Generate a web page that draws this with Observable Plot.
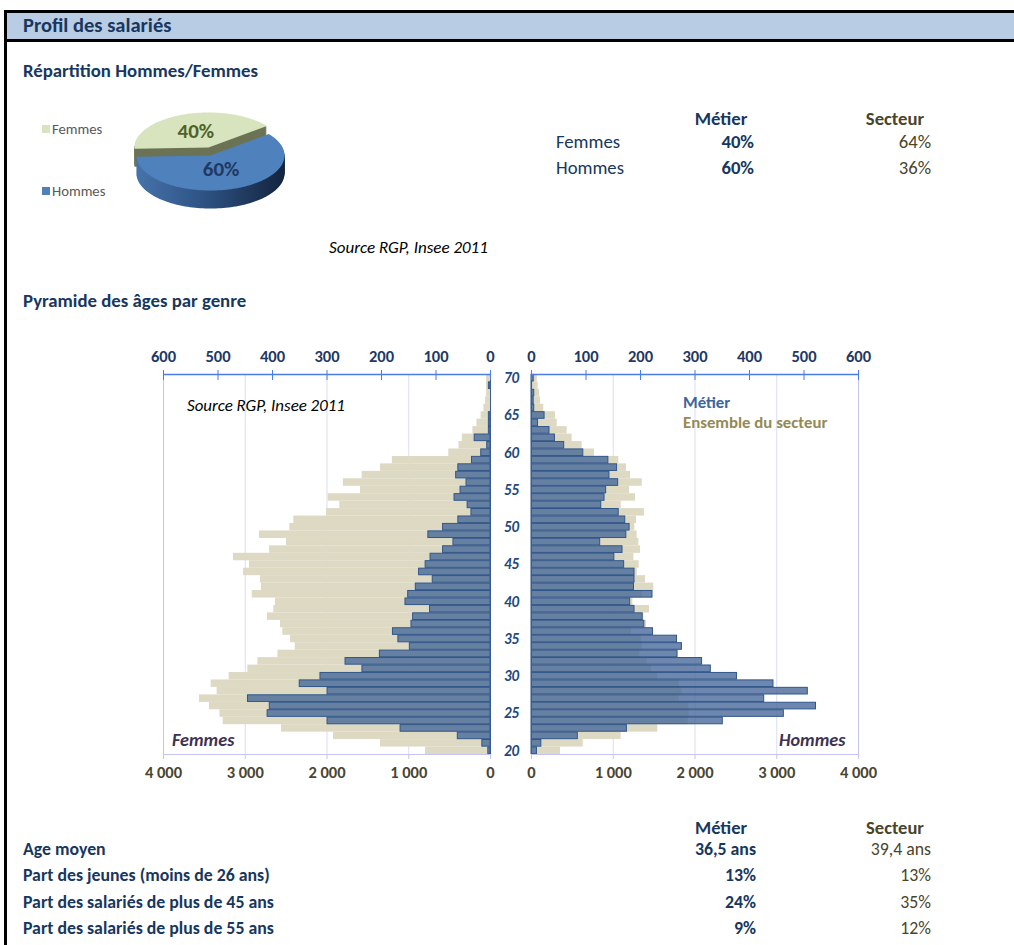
<!DOCTYPE html>
<html><head><meta charset="utf-8">
<script src="https://cdn.jsdelivr.net/npm/d3@7"></script>
<script src="https://cdn.jsdelivr.net/npm/@observablehq/plot@0.6"></script>
<style>
body{margin:0;background:#fff;}
#page{position:relative;width:1014px;height:945px;overflow:hidden;background:#fff;font-family:Carlito,Calibri,Lato,sans-serif;}
.t{position:absolute;white-space:nowrap;line-height:1;}
.abs{position:absolute;}
</style></head><body><div id="page"></div>
<script>
// ---------------- DATA ----------------
const pieLabels = ["Femmes", "Hommes"];
const pieShares = [40, 60];
const genderMetier = ["40%", "60%"];
const genderSecteur = ["64%", "36%"];

const ages = [20,21,22,23,24,25,26,27,28,29,30,31,32,33,34,35,36,37,38,39,40,41,42,43,44,45,46,47,48,49,50,51,52,53,54,55,56,57,58,59,60,61,62,63,64,65,66,67,68,69,70];
// Femmes – métier (top scale, 0–600)
const femmesMetier = [4,15,60,165,299,409,405,445,299,350,312,235,266,203,148,169,179,145,142,111,156,151,137,106,131,119,110,87,68,114,87,59,35,42,66,55,44,63,59,34,17,6,29,3,3,3,0,0,0,3,0];
// Femmes – ensemble du secteur (bottom scale, 0–4000)
const femmesSecteur = [795,1345,1920,2557,3270,3310,3437,3560,3344,3417,3197,2968,2845,2600,2389,2446,2540,2569,2728,2650,2630,2915,2801,2814,3021,2948,3144,2703,2495,2826,2455,2406,2006,1843,1985,1590,1800,1570,1345,1200,510,385,345,215,165,115,80,60,50,50,49];
// Hommes – métier
const hommesMetier = [10,18,85,175,351,463,522,427,507,444,377,329,313,268,276,267,223,207,204,189,181,222,188,189,189,170,152,167,126,174,180,172,160,128,134,137,159,143,157,141,95,60,43,33,12,24,5,4,5,1,4];
// Hommes – ensemble du secteur
const hommesSecteur = [355,632,1097,1545,1916,1930,1925,1806,1843,1810,1545,1468,1415,1325,1354,1346,1223,1407,1374,1443,1240,1354,1496,1395,1293,1317,1252,1333,1313,1293,1264,1284,1382,1097,1272,1200,1354,1211,1162,1068,770,620,497,436,314,294,150,110,98,80,70];

const metierTicks = [0,100,200,300,400,500,600];
const secteurTicks = [0,1000,2000,3000,4000];
const ageTicks = [20,25,30,35,40,45,50,55,60,65,70];

const statLabels = ["Age moyen","Part des jeunes (moins de 26 ans)","Part des salariés de plus de 45 ans","Part des salariés de plus de 55 ans"];
const statMetier = ["36,5 ans","13%","24%","9%"];
const statSecteur = ["39,4 ans","13%","35%","12%"];

// ---------------- LAYOUT ----------------
const FONT = "Carlito, Calibri, Lato, sans-serif";
const NAVY = "#17375e", OLIVE = "#4a452a";
const page = document.getElementById("page");

function txt(s, x, y, st, anchor = "start") {
  const el = document.createElement("div");
  el.className = "t";
  el.textContent = s;
  const tx = anchor === "end" ? "-100%" : anchor === "middle" ? "-50%" : "0";
  el.style.cssText = `left:${x}px;top:${y}px;transform:translate(${tx},-50%);` + st;
  page.appendChild(el);
  return el;
}
function box(x, y, w, h, st) {
  const el = document.createElement("div");
  el.className = "abs";
  el.style.cssText = `left:${x}px;top:${y}px;width:${w}px;height:${h}px;` + st;
  page.appendChild(el);
}

// frame / header
box(4, 10, 1020, 26, "background:#b8cce4;border-top:3px solid #000;border-bottom:3px solid #000;border-left:3px solid #000;box-sizing:content-box;");
box(4, 38, 3, 910, "background:#000;");
txt("Profil des salariés", 23, 25, `font-weight:bold;font-size:20.5px;color:${NAVY};`);

txt("Répartition Hommes/Femmes", 23, 71, `font-weight:bold;font-size:18.8px;color:${NAVY};`);
txt("Source RGP, Insee 2011", 329, 247, "font-style:italic;font-size:17px;color:#000;");
txt("Pyramide des âges par genre", 23, 301, `font-weight:bold;font-size:18.8px;color:${NAVY};`);

// pie legend
const pieColors = ["#d7e4bd", "#4f81bd"];
const legY = [129, 191];
pieLabels.forEach((l, i) => {
  box(42, legY[i] - 4, 8, 8, `background:${pieColors[i]};`);
  txt(l, 52, legY[i], "font-size:14.7px;color:#595959;");
});

// top-right table
txt("Métier", 721, 119, `font-weight:bold;font-size:18.7px;color:${NAVY};`, "middle");
txt("Secteur", 895, 119, `font-weight:bold;font-size:18.7px;color:${OLIVE};`, "middle");
pieLabels.forEach((l, i) => {
  const y = 142 + i * 26;
  txt(l, 556, y, `font-size:18.7px;color:${NAVY};`);
  txt(genderMetier[i], 754, y, `font-weight:bold;font-size:18.7px;color:${NAVY};`, "end");
  txt(genderSecteur[i], 931, y, `font-size:18.7px;color:${OLIVE};`, "end");
});

// bottom table
txt("Métier", 721, 828, `font-weight:bold;font-size:18.5px;color:${NAVY};`, "middle");
txt("Secteur", 895, 828, `font-weight:bold;font-size:18.5px;color:${OLIVE};`, "middle");
statLabels.forEach((l, i) => {
  const y = 850 + i * 26.3;
  txt(l, 23, y, `font-weight:bold;font-size:17.8px;color:${NAVY};`);
  txt(statMetier[i], 756, y, `font-weight:bold;font-size:17.8px;color:${NAVY};`, "end");
  txt(statSecteur[i], 931, y, `font-size:17.8px;color:${OLIVE};`, "end");
});

// ---------------- PIE (3D-ish) ----------------
(function () {
  const W = 220, H = 140, ox0 = 100, oy0 = 90;
  const cx = 110, cy = 65, rx = 74, ry = 35, depth = 18;
  const total = d3.sum(pieShares);
  let acc = 178;
  const slices = pieLabels.map((lab, i) => {
    const a0 = acc, a1 = acc + pieShares[i] / total * 360; acc = a1;
    return {lab, share: pieShares[i], a0, a1, ox: i === 0 ? -2 : 0, oy: i === 0 ? -8 : 0};
  });
  function poly(s, dy, fill) {
    const pts = [[cx + s.ox, cy + s.oy + dy]];
    const n = Math.ceil((s.a1 - s.a0) / 2);
    for (let j = 0; j <= n; j++) {
      const a = (s.a0 + (s.a1 - s.a0) * j / n) * Math.PI / 180;
      pts.push([cx + s.ox + rx * Math.cos(a), cy + s.oy + dy + ry * Math.sin(a)]);
    }
    pts.push(pts[0]);
    return {type: "Feature", properties: {fill}, geometry: {type: "Polygon", coordinates: [pts]}};
  }
  const feats = [];
  const sideFill = ["#6c7355", "url(#hgrad)"];
  const topFill = ["#d7e4bd", "#4f81bd"];
  slices.forEach((s, i) => {
    for (let k = depth; k >= 1; k--) feats.push(poly(s, k, sideFill[i]));
    feats.push(poly(s, 0, topFill[i]));
  });
  const labelColor = ["#4f6228", "#1f3864"];
  const svg = Plot.plot({
    width: W, height: H, margin: 0,
    projection: {type: "identity", domain: {type: "Polygon", coordinates: [[[0, 0], [W, 0], [W, H], [0, H], [0, 0]]]}},
    color: {type: "identity"},
    style: {background: "transparent", fontFamily: FONT},
    marks: [
      Plot.geo(feats, {fill: d => d.properties.fill, stroke: null}),
      Plot.text(slices, {
        x: s => { const m = (s.a0 + s.a1) / 2 * Math.PI / 180; const r = s.ox ? 0.5 : 0.42; return cx + s.ox + r * rx * Math.cos(m); },
        y: s => { const m = (s.a0 + s.a1) / 2 * Math.PI / 180; const r = s.ox ? 0.5 : 0.42; return cy + s.oy + r * ry * Math.sin(m); },
        text: s => s.share + "%",
        fill: (s, i) => labelColor[i],
        fontWeight: "bold", fontSize: 21
      })
    ]
  });
  const defs = document.createElementNS("http://www.w3.org/2000/svg", "defs");
  defs.innerHTML = `<linearGradient id="hgrad" gradientUnits="userSpaceOnUse" x1="${cx - rx}" y1="0" x2="${cx + rx}" y2="0"><stop offset="0" stop-color="#4673aa"/><stop offset="0.45" stop-color="#2e5384"/><stop offset="1" stop-color="#13243e"/></linearGradient>`;
  svg.prepend(defs);
  svg.style.position = "absolute"; svg.style.left = ox0 + "px"; svg.style.top = oy0 + "px";
  page.appendChild(svg);
})();

// ---------------- PYRAMID ----------------
const k = 4000 / 600;
const fmtK = v => v === 0 ? "0" : `${v / 1000} 000`;
function pyramid(left, metier, secteur) {
  const marks = [
    Plot.ruleX([1000, 2000, 3000], {stroke: "#dcdcf7"}),
    Plot.ruleX([4000], {stroke: "#c4c4f4"}),
    Plot.rect(ages, {x1: () => 0, x2: (d, i) => secteur[i], y1: d => d - 0.5, y2: d => d + 0.5, fill: "#ddd9c3"}),
    Plot.rect(ages, {x1: () => 0, x2: (d, i) => metier[i] * k, y1: d => d - 0.5, y2: d => d + 0.5, fill: "#48699a", fillOpacity: 0.8, stroke: "#30568a", strokeWidth: 1, insetTop: 0.4, insetBottom: 0.4}),
    Plot.ruleY([19.5], {stroke: "#c4c4f4"}),
    Plot.ruleX([0], {stroke: "#3a5a9a"}),
    Plot.ruleY([70.5], {stroke: "#4a7de8", strokeWidth: 1.3}),
    Plot.axisX(metierTicks.map(v => v * k), {anchor: "top", tickSize: 5, tickPadding: 8, stroke: "#4a7de8", fill: "#1f3864", fontWeight: "bold", fontSize: 16.5, tickFormat: v => String(Math.round(v / k))}),
    Plot.axisX(metierTicks.map(v => v * k), {anchor: "top", tickSize: 5, dy: 5, stroke: "#4a7de8", tickFormat: () => ""}),
    Plot.axisX(secteurTicks, {anchor: "bottom", tickSize: 5, tickPadding: 7, stroke: "#c4c4f4", fill: "#4a4530", fontWeight: "bold", fontSize: 16.5, tickFormat: fmtK})
  ];
  if (!left) marks.push(Plot.axisY(ageTicks, {anchor: "left", tickSize: 0, tickPadding: 20, textAnchor: "middle", fill: "#1f497d", fontWeight: "bold", fontStyle: "italic", fontSize: 15}));
  const svg = Plot.plot({
    width: left ? 355 : 385, height: 460,
    marginLeft: left ? 23 : 36, marginRight: left ? 5 : 22, marginTop: 44, marginBottom: 36,
    x: {domain: left ? [4000, 0] : [0, 4000], label: null},
    y: {domain: [19.5, 70.5], label: null, axis: null},
    style: {background: "transparent", fontFamily: FONT, overflow: "visible"},
    marks
  });
  svg.style.position = "absolute";
  svg.style.left = (left ? 140 : 495) + "px";
  svg.style.top = "330px";
  page.appendChild(svg);
}
pyramid(true, femmesMetier, femmesSecteur);
pyramid(false, hommesMetier, hommesSecteur);

// annotations in pyramid
txt("Source RGP, Insee 2011", 187, 406, "font-style:italic;font-size:16.9px;color:#000;");
txt("Métier", 683, 403, "font-weight:bold;font-size:16.8px;color:#3d6597;");
txt("Ensemble du secteur", 683, 423, "font-weight:bold;font-size:16.8px;color:#948a54;");
txt("Femmes", 172, 740, "font-weight:bold;font-style:italic;font-size:18.2px;color:#3f3151;");
txt("Hommes", 779, 740, "font-weight:bold;font-style:italic;font-size:18.2px;color:#3f3151;");
</script>
</body></html>
